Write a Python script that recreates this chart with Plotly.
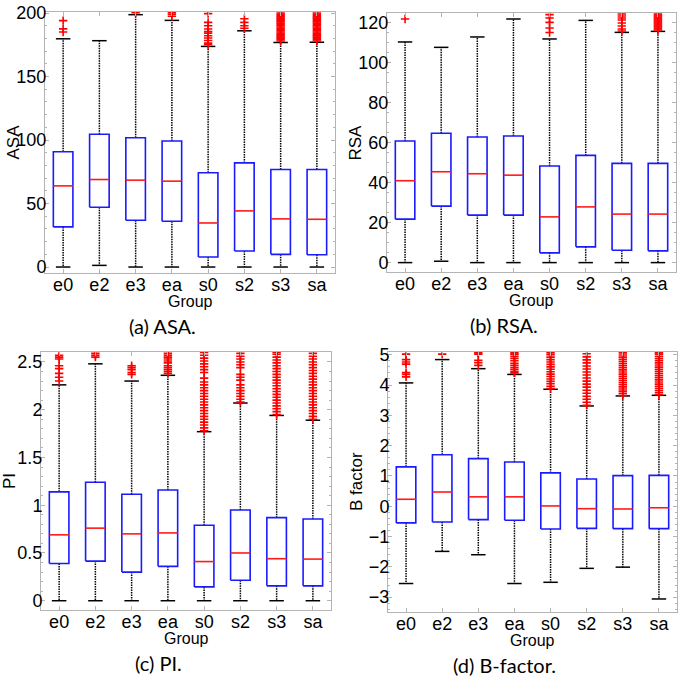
import plotly.graph_objects as go

groups = ["e0", "e2", "e3", "ea", "s0", "s2", "s3", "sa"]

# ASA
asa_lo = [0, 1.3, 0, 0, 0, 0, 0, 0]
asa_q1 = [31.6, 47.1, 36.8, 36.0, 7.9, 12.6, 10.0, 9.7]
asa_med = [63.9, 68.9, 68.4, 67.6, 34.7, 44.2, 37.9, 37.6]
asa_q3 = [90.8, 104.5, 101.8, 99.2, 74.2, 82.0, 76.8, 76.8]
asa_hi = [179.7, 178.2, 198.7, 194.2, 173.7, 186.0, 176.8, 177.0]
asa_out = [
    [194, 187.5, 185],
    [],
    [200.3],
    [200.3, 199, 197.5],
    [199.5, 192.6, 190, 187.4, 185.5, 184.2, 182.1, 180.3, 178.4, 176.3, 175],
    [195.5, 192.6, 190, 188],
    [178, 179, 180, 181, 182, 183, 184, 185, 186, 187, 188, 189, 190, 191, 192,
     193, 194, 195, 196, 197, 198, 199, 200],
    [178, 179, 180, 181, 182, 183, 184, 185, 186, 187, 188, 189, 190, 191, 192,
     193, 194, 195, 196, 197, 198, 199, 200],
]

# RSA
rsa_lo = [0, 0.7, 0, 0, 0, 0, 0, 0]
rsa_q1 = [21.8, 28.3, 23.8, 23.8, 4.9, 7.9, 6.2, 5.9]
rsa_med = [41.0, 45.5, 44.5, 43.8, 22.9, 27.9, 24.3, 24.3]
rsa_q3 = [60.9, 64.8, 62.9, 63.4, 48.4, 53.7, 49.7, 49.7]
rsa_hi = [110.5, 107.8, 113.0, 122.0, 112.0, 121.3, 115.3, 115.8]
rsa_out = [
    [122],
    [],
    [],
    [],
    [124.2, 122.5, 120.3, 117.5, 115.2],
    [],
    [124.5, 123.5, 122.5, 121.5, 120, 118.5, 117, 116],
    [116.5, 117, 117.5, 118, 118.5, 119, 119.5, 120, 120.5, 121, 121.5, 122,
     122.5, 123, 123.5, 124, 124.5],
]

# PI
pi_lo = [0, 0, 0, 0, 0, 0, 0, 0]
pi_q1 = [0.39, 0.415, 0.30, 0.36, 0.145, 0.215, 0.156, 0.156]
pi_med = [0.69, 0.76, 0.70, 0.71, 0.41, 0.50, 0.44, 0.436]
pi_q3 = [1.14, 1.24, 1.115, 1.16, 0.79, 0.95, 0.87, 0.855]
pi_hi = [2.26, 2.48, 2.30, 2.36, 1.77, 2.07, 1.94, 1.89]
pi_out = [
    [2.57, 2.55, 2.53, 2.46, 2.43, 2.38, 2.34, 2.30],
    [2.59, 2.57, 2.55],
    [2.46, 2.44, 2.42, 2.39, 2.37],
    [2.59, 2.57, 2.55, 2.53, 2.51, 2.49, 2.46, 2.44, 2.42, 2.40, 2.38],
    [1.78, 1.81, 1.84, 1.87, 1.90, 1.93, 1.96, 1.99, 2.02, 2.05, 2.08, 2.11,
     2.14, 2.17, 2.20, 2.23, 2.26, 2.29, 2.33, 2.39, 2.42, 2.45, 2.48, 2.51,
     2.54, 2.57, 2.60],
    [2.08, 2.11, 2.14, 2.17, 2.20, 2.23, 2.26, 2.31, 2.34, 2.37, 2.44, 2.47,
     2.50, 2.53, 2.56, 2.59],
    [1.95, 1.98, 2.01, 2.04, 2.07, 2.10, 2.13, 2.16, 2.19, 2.22, 2.25, 2.28,
     2.31, 2.34, 2.37, 2.40, 2.43, 2.46, 2.49, 2.52, 2.55, 2.58, 2.60],
    [1.90, 1.93, 1.96, 1.99, 2.02, 2.05, 2.08, 2.11, 2.14, 2.17, 2.20, 2.23,
     2.26, 2.29, 2.32, 2.35, 2.38, 2.41, 2.44, 2.47, 2.50, 2.53, 2.56, 2.59],
]

# B factor
bf_lo = [-2.55, -1.49, -1.60, -2.55, -2.51, -2.05, -2.01, -3.06]
bf_q1 = [-0.55, -0.52, -0.44, -0.46, -0.75, -0.73, -0.74, -0.74]
bf_med = [0.23, 0.47, 0.31, 0.31, 0.01, -0.08, -0.09, -0.05]
bf_q3 = [1.30, 1.70, 1.57, 1.46, 1.10, 0.90, 1.01, 1.02]
bf_hi = [4.07, 4.84, 4.54, 4.35, 3.86, 3.31, 3.64, 3.66]
bf_out = [
    [5.02, 4.84, 4.76, 4.69, 4.41, 4.35, 4.27],
    [5.02],
    [5.06, 5.02, 4.82, 4.74, 4.65],
    [5.06, 5.02, 4.95, 4.88, 4.80, 4.72, 4.65, 4.58, 4.52, 4.45, 4.40],
    [3.88, 3.96, 4.04, 4.12, 4.20, 4.28, 4.36, 4.44, 4.52, 4.60, 4.68, 4.76,
     4.84, 4.92, 5.00, 5.06],
    [3.33, 3.43, 3.53, 3.63, 3.73, 3.83, 3.93, 4.03, 4.13, 4.23, 4.33, 4.43,
     4.53, 4.63, 4.73, 4.83, 4.93, 5.03],
    [3.66, 3.73, 3.80, 3.87, 3.94, 4.01, 4.08, 4.15, 4.22, 4.29, 4.36, 4.43,
     4.50, 4.57, 4.64, 4.71, 4.78, 4.85, 4.92, 4.99, 5.06],
    [3.68, 3.75, 3.82, 3.89, 3.96, 4.03, 4.10, 4.17, 4.24, 4.31, 4.38, 4.45,
     4.52, 4.59, 4.66, 4.73, 4.80, 4.87, 4.94, 5.01, 5.06],
]

W, H = 685, 688
BOX_HW = 0.27
CAP_HW = 0.2

panels = [
    # n, data, y range, ticks, minor step, x px, y px, y title, caption
    (1, (asa_lo, asa_q1, asa_med, asa_q3, asa_hi, asa_out), [-4.7, 200.8],
     [0, 50, 100, 150, 200], 10, (45, 335), (12, 273), "ASA", "(a) ASA."),
    (2, (rsa_lo, rsa_q1, rsa_med, rsa_q3, rsa_hi, rsa_out), [-4.7, 125],
     [0, 20, 40, 60, 80, 100, 120], 5, (387, 676), (13, 272), "RSA", "(b) RSA."),
    (3, (pi_lo, pi_q1, pi_med, pi_q3, pi_hi, pi_out), [-0.097, 2.604],
     [0, 0.5, 1, 1.5, 2, 2.5], 0.1, (41, 331), (352, 610), "PI", "(c) PI."),
    (4, (bf_lo, bf_q1, bf_med, bf_q3, bf_hi, bf_out), [-3.49, 5.09],
     [-3, -2, -1, 0, 1, 2, 3, 4, 5], 0.2, (388, 677), (352, 612), "B factor",
     "(d) B-factor."),
]

fig = go.Figure()
annotations = []
layout = {}

for n, data, yr, yticks, ydminor, xpx, ypx, ytitle, caption in panels:
    lo, q1, med, q3, hi, outs = data
    xa = "x" if n == 1 else f"x{n}"
    ya = "y" if n == 1 else f"y{n}"

    bx, by, mx, my, wx, wy, cx, cy, ox, oy = [], [], [], [], [], [], [], [], [], []
    for i in range(len(groups)):
        p = i + 1
        bx += [p - BOX_HW, p + BOX_HW, p + BOX_HW, p - BOX_HW, p - BOX_HW, None]
        by += [q1[i], q1[i], q3[i], q3[i], q1[i], None]
        mx += [p - BOX_HW, p + BOX_HW, None]
        my += [med[i], med[i], None]
        wx += [p, p, None, p, p, None]
        wy += [q3[i], hi[i], None, q1[i], lo[i], None]
        cx += [p - CAP_HW, p + CAP_HW, None, p - CAP_HW, p + CAP_HW, None]
        cy += [hi[i], hi[i], None, lo[i], lo[i], None]
        ox += [p] * len(outs[i])
        oy += outs[i]

    fig.add_trace(go.Scatter(x=wx, y=wy, mode="lines", xaxis=xa, yaxis=ya,
                             line=dict(color="black", width=1.5, dash="1.5px,1px"),
                             showlegend=False, hoverinfo="skip"))
    fig.add_trace(go.Scatter(x=cx, y=cy, mode="lines", xaxis=xa, yaxis=ya,
                             line=dict(color="black", width=1.5),
                             showlegend=False, hoverinfo="skip"))
    fig.add_trace(go.Scatter(x=bx, y=by, mode="lines", xaxis=xa, yaxis=ya,
                             line=dict(color="#1a1aff", width=1.6),
                             showlegend=False, hoverinfo="skip"))
    fig.add_trace(go.Scatter(x=mx, y=my, mode="lines", xaxis=xa, yaxis=ya,
                             line=dict(color="#ff1a1a", width=1.6),
                             showlegend=False, hoverinfo="skip"))
    fig.add_trace(go.Scatter(x=ox, y=oy, mode="markers", xaxis=xa, yaxis=ya,
                             marker=dict(symbol="cross-thin", size=6,
                                         line=dict(color="red", width=1.6)),
                             showlegend=False, hoverinfo="skip"))

    key = "" if n == 1 else str(n)
    common = dict(showline=True, mirror="ticks", linecolor="#b4b4b4",
                  linewidth=1, ticks="inside", tickcolor="#b4b4b4", ticklen=4,
                  showgrid=False, zeroline=False, automargin=False,
                  tickfont=dict(family="Liberation Sans", size=18, color="black"))
    layout["xaxis" + key] = dict(
        domain=[xpx[0] / W, xpx[1] / W], range=[0.5, len(groups) + 0.5],
        tickvals=list(range(1, len(groups) + 1)), ticktext=groups,
        anchor=ya, ticklabelstandoff=-5, **common)
    layout["yaxis" + key] = dict(
        domain=[1 - ypx[1] / H, 1 - ypx[0] / H], range=yr,
        tickvals=yticks, anchor=xa, ticklabelstandoff=-6,
        minor=dict(dtick=ydminor, ticks="inside", ticklen=2,
                   tickcolor="#b4b4b4"),
        **common)

    xmid = (xpx[0] + xpx[1]) / 2
    annotations.append(dict(text=ytitle, textangle=-90, xref="paper", yref="paper",
                            x=(xpx[0] - 32) / W, y=1 - (ypx[0] + ypx[1]) / 2 / H,
                            showarrow=False, xanchor="center", yanchor="middle",
                            font=dict(family="Liberation Sans", size=17, color="black")))
    annotations.append(dict(text="Group", xref="paper", yref="paper",
                            x=xmid / W, y=1 - (ypx[1] + 28) / H,
                            showarrow=False, xanchor="center", yanchor="middle",
                            font=dict(family="Liberation Sans", size=16, color="black")))
    annotations.append(dict(text=caption, xref="paper", yref="paper",
                            x=(xmid - 28) / W, y=1 - (ypx[1] + 53) / H,
                            showarrow=False, xanchor="center", yanchor="middle",
                            font=dict(family="Lato", size=20, color="black")))

fig.update_layout(width=W, height=H, margin=dict(l=0, r=0, t=0, b=0, autoexpand=False),
                  paper_bgcolor="white", plot_bgcolor="white",
                  annotations=annotations, **layout)

fig.write_html("out.html", config={"displayModeBar": False},
               post_script="document.body.style.margin='0';"
                           "document.body.style.overflow='hidden';")
